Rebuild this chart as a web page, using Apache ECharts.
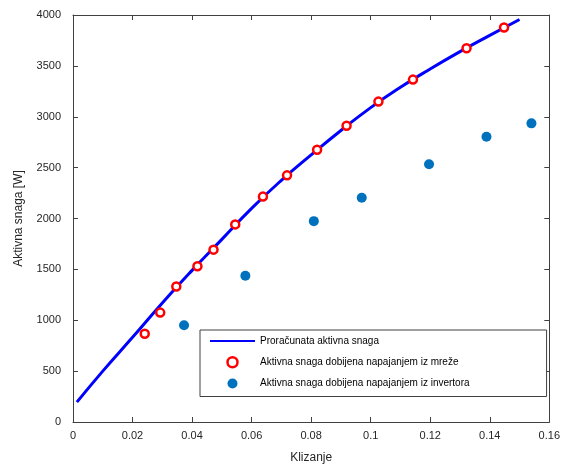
<!DOCTYPE html>
<html>
<head>
<meta charset="utf-8">
<script src="https://cdn.jsdelivr.net/npm/echarts@6/dist/echarts.min.js"></script>
<style>html,body{margin:0;padding:0;background:#fff}#c{width:563px;height:469px}</style>
</head>
<body>
<div id="c"></div>
<script>
// Computed curve (slip, power)
const curveSlip  = [0.0013, 0.01, 0.02, 0.03, 0.04, 0.05, 0.06, 0.07, 0.08, 0.09, 0.10, 0.11, 0.12, 0.13, 0.14, 0.15];
const curvePower = [195, 500, 832, 1170, 1490, 1795, 2100, 2375, 2625, 2865, 3090, 3290, 3470, 3640, 3800, 3956];
// Grid-fed measurements
const gridSlip  = [0.0241, 0.0293, 0.0347, 0.0418, 0.0472, 0.0545, 0.0638, 0.0719, 0.0820, 0.0919, 0.1026, 0.1142, 0.1322, 0.1448];
const gridPower = [867, 1075, 1332, 1531, 1694, 1942, 2215, 2424, 2675, 2911, 3149, 3365, 3673, 3878];
// Inverter-fed measurements
const invSlip  = [0.0373, 0.0579, 0.0809, 0.0970, 0.1196, 0.1389, 0.1540];
const invPower = [951, 1437, 1974, 2204, 2534, 2804, 2935];

const xTicks = [0, 0.02, 0.04, 0.06, 0.08, 0.1, 0.12, 0.14, 0.16];
const yTicks = [0, 500, 1000, 1500, 2000, 2500, 3000, 3500, 4000];

const names = ['Proračunata aktivna snaga', 'Aktivna snaga dobijena napajanjem iz mreže', 'Aktivna snaga dobijena napajanjem iz invertora'];

const zip = (a, b) => a.map((v, i) => [v, b[i]]);
const font = 'Liberation Sans, Arial, sans-serif';
const axisCol = '#404040';

const chart = echarts.init(document.getElementById('c'), null, {renderer: 'canvas'});
const baseX = {
  type: 'value', min: 0, max: 0.16, interval: 0.02,
  axisLine: {show: true, onZero: false, lineStyle: {color: axisCol, width: 1}},
  axisTick: {show: true, inside: true, length: 5, lineStyle: {color: axisCol}},
  splitLine: {show: false}
};
const baseY = {
  type: 'value', min: 0, max: 4000, interval: 500,
  axisLine: {show: true, onZero: false, lineStyle: {color: axisCol, width: 1}},
  axisTick: {show: true, inside: true, length: 5, lineStyle: {color: axisCol}},
  splitLine: {show: false}
};
chart.setOption({
  animation: false,
  backgroundColor: '#fff',
  grid: {left: 73, right: 8, top: 15, bottom: 45, containLabel: false},
  xAxis: [
    Object.assign({}, baseX, {
      position: 'bottom', name: 'Klizanje', nameLocation: 'middle', nameGap: 30,
      nameTextStyle: {fontFamily: font, fontSize: 12, color: '#262626'},
      axisLabel: {fontFamily: font, fontSize: 11, color: '#262626', margin: 8,
        formatter: v => { const t = xTicks.find(k => Math.abs(k - v) < 1e-9); return t === undefined ? '' : String(t); }}
    }),
    Object.assign({}, baseX, {position: 'top', axisLabel: {show: false}})
  ],
  yAxis: [
    Object.assign({}, baseY, {
      position: 'left', name: 'Aktivna snaga [W]', nameLocation: 'middle', nameGap: 48,
      nameTextStyle: {fontFamily: font, fontSize: 12, color: '#262626'},
      axisLabel: {fontFamily: font, fontSize: 11, color: '#262626', margin: 12,
        formatter: v => { const t = yTicks.find(k => Math.abs(k - v) < 1e-6); return t === undefined ? '' : String(t); }}
    }),
    Object.assign({}, baseY, {position: 'right', axisLabel: {show: false}})
  ],
  legend: {
    orient: 'vertical', left: 200, top: 330,
    padding: [6, 77, 8, 9], itemGap: 10, itemWidth: 45, itemHeight: 10,
    backgroundColor: '#fff', borderColor: '#404040', borderWidth: 1, borderRadius: 0,
    textStyle: {fontFamily: font, fontSize: 10, color: '#000'},
    data: [
      {name: names[0], itemStyle: {opacity: 0}},
      {name: names[1], itemStyle: {borderWidth: 2.5}},
      {name: names[2]}
    ]
  },
  series: [
    {
      name: names[0], type: 'line', smooth: true, showSymbol: false, symbol: 'none',
      data: zip(curveSlip, curvePower), z: 2,
      lineStyle: {color: '#0000ff', width: 3}, itemStyle: {color: '#0000ff'}
    },
    {
      name: names[1], type: 'scatter', symbol: 'circle', symbolSize: 8, z: 3,
      data: zip(gridSlip, gridPower),
      itemStyle: {color: '#ffffff', borderColor: '#ff0000', borderWidth: 2.5, opacity: 1}
    },
    {
      name: names[2], type: 'scatter', symbol: 'circle', symbolSize: 10, z: 3,
      data: zip(invSlip, invPower),
      itemStyle: {color: '#0072bd', opacity: 1}
    }
  ]
});
</script>
</body>
</html>
